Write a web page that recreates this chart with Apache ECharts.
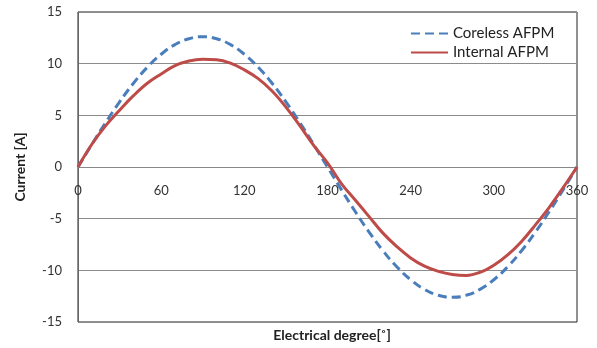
<!DOCTYPE html>
<html>
<head>
<meta charset="utf-8">
<script src="https://cdn.jsdelivr.net/npm/echarts@6/dist/echarts.min.js"></script>
<style>html,body{margin:0;padding:0;background:#fff}#c{width:597px;height:348px}</style>
</head>
<body>
<div id="c"></div>
<script>
const degrees = [0,10,20,30,40,50,60,70,80,90,100,110,120,130,140,150,160,170,180,190,200,210,220,230,240,250,260,270,280,290,300,310,320,330,340,350,360];
const corelessAFPM = [0,2.19,4.31,6.3,8.1,9.65,10.91,11.84,12.41,12.6,12.41,11.84,10.91,9.65,8.1,6.3,4.31,2.19,0,-2.19,-4.31,-6.3,-8.1,-9.65,-10.91,-11.84,-12.41,-12.6,-12.41,-11.84,-10.91,-9.65,-8.1,-6.3,-4.31,-2.19,0];
const internalAFPM = [0,2.2,4.0,5.5,6.9,8.1,9.0,9.8,10.25,10.42,10.38,10.05,9.4,8.55,7.35,5.8,4.0,2.1,0.4,-1.6,-3.2,-4.8,-6.4,-7.7,-8.8,-9.6,-10.1,-10.4,-10.5,-10.2,-9.5,-8.5,-7.2,-5.6,-3.9,-2.0,0];
const xTicks = [0,60,120,180,240,300,360];
const yTicks = [-15,-10,-5,0,5,10,15];
const seriesNames = ['Coreless AFPM','Internal AFPM'];
const xName = 'Electrical degree[˚]';
const yName = 'Current [A]';

const font = 'Lato';
const chart = echarts.init(document.getElementById('c'), null, {renderer:'canvas'});
chart.setOption({
  animation:false,
  backgroundColor:'#fff',
  textStyle:{fontFamily:font},
  title:{
    text:xName, left:327, top:323, textAlign:'center',
    textStyle:{fontSize:14,fontWeight:'bold',color:'#222',fontFamily:font}
  },
  grid:{left:78,right:20,top:12,bottom:26,show:true,borderColor:'#222',borderWidth:1,backgroundColor:'transparent'},
  legend:{
    orient:'vertical', left:405, top:21, itemGap:4, itemWidth:37, itemHeight:12,
    itemStyle:{opacity:0},
    textStyle:{fontFamily:font,fontSize:15,color:'#222'},
    data:seriesNames
  },
  xAxis:{
    type:'value', min:xTicks[0], max:xTicks[xTicks.length-1], interval:xTicks[1]-xTicks[0],
    position:'bottom', offset:-155,
    axisLine:{onZero:false,lineStyle:{color:'#888',width:1}},
    axisTick:{show:false},
    axisLabel:{margin:17,fontSize:13,color:'#333',fontFamily:font},
    splitLine:{show:false}
  },
  yAxis:{
    type:'value', min:yTicks[0], max:yTicks[yTicks.length-1], interval:yTicks[1]-yTicks[0],
    axisLine:{show:true,lineStyle:{color:'#666'}},
    axisTick:{show:false},
    axisLabel:{margin:16,fontSize:13,color:'#333',fontFamily:font},
    splitLine:{show:true,lineStyle:{color:'#8c8c8c',width:1}},
    name:yName, nameLocation:'middle', nameGap:51,
    nameTextStyle:{fontSize:14,fontWeight:'bold',color:'#222',fontFamily:font}
  },
  series:[{
    name:seriesNames[0], type:'line', smooth:true, symbol:'none',
    data:degrees.map((d,i)=>[d,corelessAFPM[i]]),
    lineStyle:{color:'#4a7ebb',width:3,type:[9,5]},
    itemStyle:{color:'#4a7ebb'}
  },{
    name:seriesNames[1], type:'line', smooth:0.4, symbol:'none',
    data:degrees.map((d,i)=>[d,internalAFPM[i]]),
    lineStyle:{color:'#be4b48',width:3},
    itemStyle:{color:'#be4b48'}
  }]
});
</script>
</body>
</html>
